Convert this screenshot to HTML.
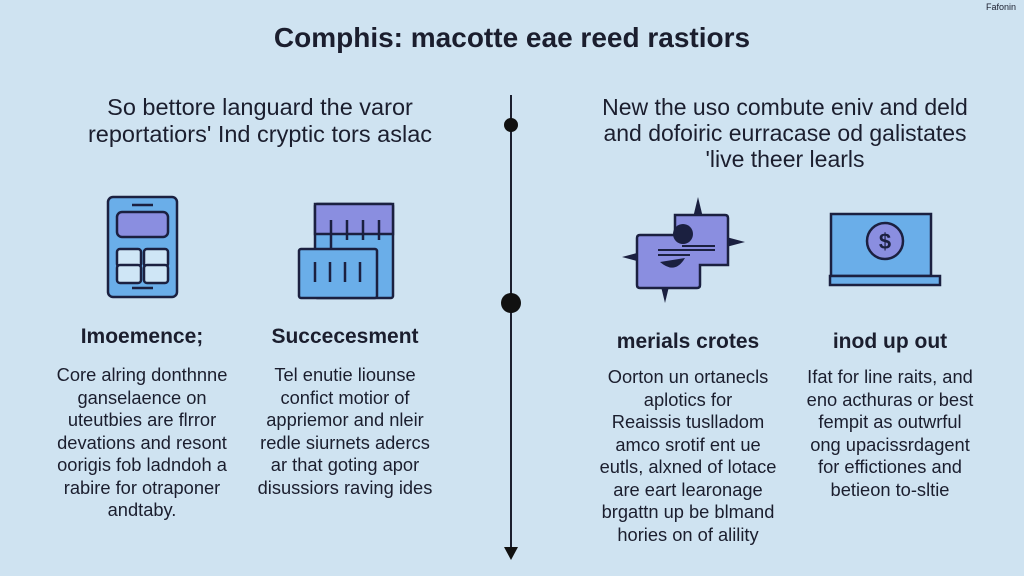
<!DOCTYPE html>
<html><head><meta charset="utf-8"><style>
body{margin:0;width:1024px;height:576px;background:#cfe3f1;position:relative;overflow:hidden;font-family:"Liberation Sans",sans-serif;color:#1b1e2e}
.t{position:absolute;text-align:center;white-space:nowrap}
.p{font-size:18.3px;line-height:22.5px}
.h{font-size:21px;font-weight:bold}
</style></head><body>
<div class="t" style="left:0;width:1024px;top:22px;font-size:28px;font-weight:bold">Comphis: macotte eae reed rastiors</div>
<div class="t" style="right:8px;top:2px;font-size:9px">Fafonin</div>
<div class="t" style="left:20px;width:480px;top:94px;font-size:23.5px;line-height:27px">So bettore languard the varor<br>reportatiors' Ind cryptic tors aslac</div>
<div class="t" style="left:545px;width:480px;top:94px;font-size:23px;line-height:26px">New the uso combute eniv and deld<br>and dofoiric eurracase od galistates<br>'live theer learls</div>
<svg style="position:absolute;left:0;top:0" width="1024" height="576">
<line x1="511" y1="95" x2="511" y2="552" stroke="#1b1e2e" stroke-width="2"/>
<circle cx="511" cy="125" r="7" fill="#111"/><circle cx="511" cy="303" r="10" fill="#111"/>
<polygon points="504,547 518,547 511,560" fill="#111"/>
<g stroke="#1b2040" stroke-width="2.5">
<rect x="108" y="197" width="69" height="100" rx="5" fill="#6aaee9"/>
<rect x="117" y="212" width="51" height="25" rx="5" fill="#8a8ee0"/>
<rect x="117" y="249" width="24" height="18" rx="3" fill="#cfe6f6"/><rect x="144" y="249" width="24" height="18" rx="3" fill="#cfe6f6"/>
<rect x="117" y="265" width="24" height="18" rx="3" fill="#cfe6f6"/><rect x="144" y="265" width="24" height="18" rx="3" fill="#cfe6f6"/>
<line x1="132" y1="205" x2="153" y2="205"/><line x1="132" y1="288" x2="153" y2="288"/>
<rect x="315" y="204" width="78" height="94" rx="2" fill="#6aaee9"/>
<rect x="315" y="204" width="78" height="30" fill="#8a8ee0"/>
<rect x="299" y="249" width="78" height="49" rx="2" fill="#6aaee9"/>
<line x1="331" y1="220" x2="331" y2="249"/><line x1="347" y1="220" x2="347" y2="240"/><line x1="363" y1="220" x2="363" y2="240"/><line x1="379" y1="220" x2="379" y2="240"/>
<line x1="315" y1="262" x2="315" y2="282"/><line x1="330" y1="262" x2="330" y2="282"/><line x1="345" y1="262" x2="345" y2="282"/><line x1="360" y1="262" x2="360" y2="282"/>
<rect x="831" y="214" width="100" height="62" fill="#6aaee9"/>
<rect x="830" y="276" width="110" height="9" fill="#6aaee9"/>
<circle cx="885" cy="241" r="18" fill="#8a8ee0"/>
</g>
<text x="885" y="249" font-size="22" font-weight="bold" text-anchor="middle" fill="#1b2040" font-family="Liberation Sans">$</text>
<g fill="#1b2040"><polygon points="698,197 706,230 690,230"/><polygon points="745,242 715,250 715,234"/><polygon points="622,257 652,249 652,265"/><polygon points="665,303 657,270 673,270"/></g>
<path d="M675 215 L725 215 Q728 215 728 218 L728 265 L700 265 L700 285 Q700 288 697 288 L640 288 Q637 288 637 285 L637 238 Q637 235 640 235 L675 235 Z" fill="#8a8ee0" stroke="#1b2040" stroke-width="2.5"/>
<circle cx="683" cy="234" r="10" fill="#1b2040"/>
<path d="M660 262 Q675 275 685 258 Z" fill="#1b2040"/>
<g stroke="#1b2040" stroke-width="2"><line x1="658" y1="250" x2="715" y2="250"/><line x1="682" y1="246" x2="715" y2="246"/><line x1="658" y1="255" x2="690" y2="255"/></g>
</svg>
<div class="t h" style="left:42px;width:200px;top:325px">Imoemence;</div>
<div class="t h" style="left:245px;width:200px;top:325px">Succecesment</div>
<div class="t h" style="left:588px;width:200px;top:330px">merials crotes</div>
<div class="t h" style="left:790px;width:200px;top:330px">inod up out</div>
<div class="t p" style="left:42px;width:200px;top:364px">Core alring donthnne<br>ganselaence on<br>uteutbies are flrror<br>devations and resont<br>oorigis fob ladndoh a<br>rabire for otraponer<br>andtaby.</div>
<div class="t p" style="left:245px;width:200px;top:364px">Tel enutie liounse<br>confict motior of<br>appriemor and nleir<br>redle siurnets adercs<br>ar that goting apor<br>disussiors raving ides</div>
<div class="t p" style="left:588px;width:200px;top:366px">Oorton un ortanecls<br>aplotics for<br>Reaissis tuslladom<br>amco srotif ent ue<br>eutls, alxned of lotace<br>are eart learonage<br>brgattn up be blmand<br>hories on of alility</div>
<div class="t p" style="left:790px;width:200px;top:366px">Ifat for line raits, and<br>eno acthuras or best<br>fempit as outwrful<br>ong upacissrdagent<br>for effictiones and<br>betieon to-sltie</div>
</body></html>
